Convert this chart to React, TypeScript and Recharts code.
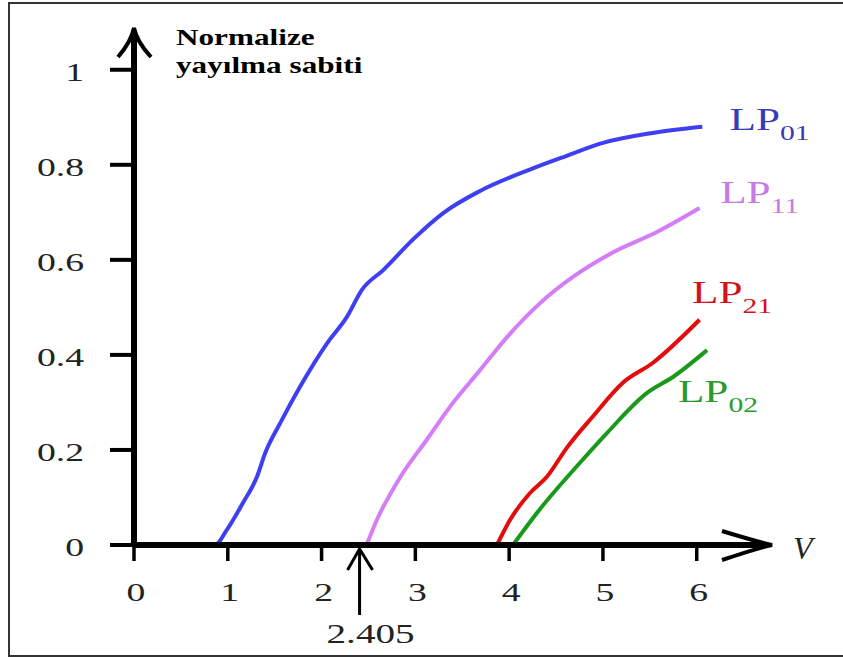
import React from "react";
import { LineChart, Line, XAxis, YAxis, ReferenceDot } from "recharts";

const FONT = '"Liberation Serif", "Times New Roman", serif';

const xTicks = [0, 1, 2, 3, 4, 5, 6];
const yTicks = [0, 0.2, 0.4, 0.6, 0.8, 1];

// LP01 (blue)
const lp01V = [0, 0.5, 0.86, 0.99, 1.16, 1.31, 1.4, 1.56, 1.77, 2.06, 2.27, 2.43, 2.66, 2.97, 3.3, 3.69, 4.22, 4.6, 5.0, 5.53, 6.06];
const lp01B = [0, 0, 0, 0.032, 0.088, 0.143, 0.194, 0.257, 0.333, 0.425, 0.48, 0.537, 0.579, 0.642, 0.699, 0.745, 0.79, 0.818, 0.846, 0.867, 0.88];

// LP11 (violet)
const lp11V = [2.48, 2.59, 2.84, 3.12, 3.4, 3.69, 3.98, 4.33, 4.68, 5.1, 5.58, 6.03];
const lp11B = [0, 0.053, 0.143, 0.221, 0.299, 0.368, 0.438, 0.509, 0.564, 0.615, 0.659, 0.709];

// LP21 (red)
const lp21V = [3.87, 4.01, 4.22, 4.4, 4.62, 4.89, 5.21, 5.53, 6.03];
const lp21B = [0, 0.053, 0.109, 0.143, 0.206, 0.27, 0.341, 0.383, 0.474];

// LP02 (green)
const lp02V = [4.04, 4.33, 4.75, 5.04, 5.47, 5.75, 6.11];
const lp02B = [0, 0.076, 0.172, 0.235, 0.32, 0.354, 0.41];

// curve labels: subscript, anchor (left/baseline) in data units, colour
const modeLabels = [
  { sub: "01", x: 6.35, y: 0.874, color: "#3a3ab8" },
  { sub: "11", x: 6.25, y: 0.72, color: "#c77ae6" },
  { sub: "21", x: 5.95, y: 0.509, color: "#d4101c" },
  { sub: "02", x: 5.8, y: 0.3, color: "#2a9a2a" },
];

const cutoff = 2.405;

const toPoints = (v: number[], b: number[]) => v.map((x, i) => ({ x, y: b[i] }));

const XTick = (props: any) => {
  const { x, y, payload } = props;
  return (
    <text
      transform={`translate(${x + 2},${y + 40}) scale(1.45,1)`}
      textAnchor="middle"
      style={{ fontFamily: FONT, fontSize: 26 }}
      fill="#222"
    >
      {payload.value}
    </text>
  );
};

const YTick = (props: any) => {
  const { x, y, payload } = props;
  return (
    <text
      transform={`translate(${x},${y + 11}) scale(1.45,1)`}
      textAnchor="end"
      style={{ fontFamily: FONT, fontSize: 26 }}
      fill="#222"
    >
      {payload.value}
    </text>
  );
};

const YArrow = (props: any) => {
  const { cx, cy } = props;
  return (
    <g>
      <rect x={cx - 3} y={cy - 16} width={6} height={19} fill="#000" />
      <path
        d={`M${cx - 16},${cy + 11} Q${cx - 3},${cy - 4} ${cx},${cy - 18} Q${cx + 3},${cy - 4} ${cx + 17},${cy + 11}`}
        stroke="#000"
        strokeWidth={4}
        fill="none"
      />
      <g style={{ fontFamily: FONT, fontSize: 24, fontWeight: "bold" }} fill="#000">
        <text transform={`translate(${cx + 42},${cy - 1}) scale(1.3,1)`}>Normalize</text>
        <text transform={`translate(${cx + 42},${cy + 27}) scale(1.3,1)`}>yayılma sabiti</text>
      </g>
    </g>
  );
};

const XArrow = (props: any) => {
  const { cx, cy } = props;
  return (
    <g>
      <rect x={cx - 3} y={cy - 3} width={18} height={6} fill="#000" />
      <path
        d={`M${cx - 31},${cy - 14} Q${cx + 5},${cy - 3} ${cx + 19},${cy} Q${cx + 5},${cy + 3} ${cx - 31},${cy + 15}`}
        stroke="#000"
        strokeWidth={4}
        fill="none"
      />
      <text
        x={cx + 40}
        y={cy + 14}
        style={{ fontFamily: FONT, fontSize: 32, fontStyle: "italic" }}
        fill="#222"
      >
        V
      </text>
    </g>
  );
};

const CutoffArrow = (props: any) => {
  const { cx, cy } = props;
  return (
    <g>
      <line x1={cx} y1={cy + 70} x2={cx} y2={cy + 5} stroke="#000" strokeWidth={3} />
      <polyline
        points={`${cx - 12},${cy + 25} ${cx},${cy + 4} ${cx + 13},${cy + 25}`}
        stroke="#000"
        strokeWidth={3}
        fill="none"
      />
      <text
        transform={`translate(${cx + 11},${cy + 98}) scale(1.45,1)`}
        textAnchor="middle"
        style={{ fontFamily: FONT, fontSize: 27 }}
        fill="#222"
      >
        {cutoff}
      </text>
    </g>
  );
};

const modeLabel = (sub: string, color: string) => (props: any) => {
  const { cx, cy } = props;
  return (
    <text
      transform={`translate(${cx},${cy}) scale(1.35,1)`}
      style={{ fontFamily: FONT, fontSize: 32 }}
      fill={color}
    >
      LP
      <tspan style={{ fontSize: 22 }} dy={10}>
        {sub}
      </tspan>
    </text>
  );
};

const App: React.FC = () => {
  return (
    <div
      style={{
        position: "absolute",
        left: 0,
        top: 0,
        width: 843,
        height: 657,
        background: "#fff",
        overflow: "hidden",
      }}
    >
      <div
        style={{
          position: "absolute",
          left: 8,
          top: 2,
          width: 850,
          height: 651,
          borderLeft: "2px solid #333",
          borderTop: "2px solid #333",
          borderBottom: "2px solid #333",
        }}
      />
      <div style={{ position: "absolute", left: 0, top: 0 }}>
        <LineChart
          width={843}
          height={657}
          margin={{ top: 46, right: 90, bottom: 52, left: 74 }}
        >
          <XAxis
            type="number"
            dataKey="x"
            domain={[0, 6.6]}
            ticks={xTicks}
            allowDataOverflow
            height={60}
            axisLine={{ stroke: "#000", strokeWidth: 6 }}
            tickLine={{ stroke: "#000", strokeWidth: 3.5 }}
            tickSize={16}
            tickMargin={0}
            tick={<XTick />}
          />
          <YAxis
            type="number"
            dataKey="y"
            domain={[0, 1.05]}
            ticks={yTicks}
            allowDataOverflow
            width={60}
            axisLine={{ stroke: "#000", strokeWidth: 6 }}
            tickLine={{ stroke: "#000", strokeWidth: 4 }}
            tickSize={24}
            tickMargin={26}
            tick={<YTick />}
          />
          <Line data={toPoints(lp01V, lp01B)} dataKey="y" type="monotone" stroke="#3f3ff2" strokeWidth={4} dot={false} isAnimationActive={false} />
          <Line data={toPoints(lp11V, lp11B)} dataKey="y" type="monotone" stroke="#d57cf7" strokeWidth={4} dot={false} isAnimationActive={false} />
          <Line data={toPoints(lp21V, lp21B)} dataKey="y" type="monotone" stroke="#e30b0b" strokeWidth={4} dot={false} isAnimationActive={false} />
          <Line data={toPoints(lp02V, lp02B)} dataKey="y" type="monotone" stroke="#1a9a1a" strokeWidth={4} dot={false} isAnimationActive={false} />
          <ReferenceDot x={0} y={1.05} ifOverflow="visible" shape={<YArrow />} />
          <ReferenceDot x={6.6} y={0} ifOverflow="visible" shape={<XArrow />} />
          <ReferenceDot x={cutoff} y={0} ifOverflow="visible" shape={<CutoffArrow />} />
          {modeLabels.map((m) => (
            <ReferenceDot
              key={m.sub}
              x={m.x}
              y={m.y}
              ifOverflow="visible"
              shape={modeLabel(m.sub, m.color)}
            />
          ))}
        </LineChart>
      </div>
    </div>
  );
};

export default App;
